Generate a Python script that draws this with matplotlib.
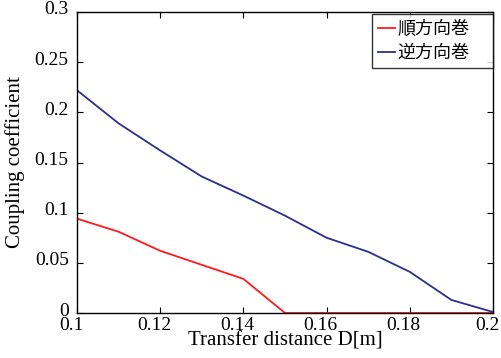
import matplotlib
matplotlib.use("Agg")
import matplotlib.pyplot as plt
import matplotlib.transforms as mtransforms

distance = [0.10, 0.11, 0.12, 0.13, 0.14, 0.15, 0.16, 0.17, 0.18, 0.19, 0.20]
forward = [0.094, 0.081, 0.062, 0.048, 0.034, 0.0, 0.0, 0.0, 0.0, 0.0, 0.0]
reverse = [0.222, 0.189, 0.162, 0.136, 0.117, 0.097, 0.075, 0.061, 0.041, 0.013, 0.001]
labels = ["順方向巻", "逆方向巻"]
xticks = [0.1, 0.12, 0.14, 0.16, 0.18, 0.2]
xticklabels = ["0.1", "0.12", "0.14", "0.16", "0.18", "0.2"]
yticks = [0, 0.05, 0.1, 0.15, 0.2, 0.25, 0.3]
yticklabels = ["0", "0.05", "0.1", "0.15", "0.2", "0.25", "0.3"]

plt.rcParams['font.family'] = ['Liberation Serif', 'Noto Sans CJK JP']

fig = plt.figure(figsize=(5.02, 3.58), dpi=100)
ax = fig.add_axes([77/502, 1 - 313/358, (493-77)/502, (313-12)/358])
ax.plot(distance, forward, color='#ff1a1a', lw=1.3, label=labels[0])
ax.plot(distance, reverse, color='#2b2f8e', lw=1.3, label=labels[1])
ax.set_xlim(0.1, 0.2)
ax.set_ylim(0, 0.3)
ax.set_xticks(xticks)
ax.set_xticklabels(xticklabels)
ax.set_yticks(yticks)
ax.set_yticklabels(yticklabels)
ax.tick_params(direction='in', top=True, right=True, labelsize=14, length=4)
ax.tick_params(axis='x', pad=3)
ax.tick_params(axis='y', pad=6)
dx = mtransforms.ScaledTranslation(-6/100, 0, fig.dpi_scale_trans)
dy = mtransforms.ScaledTranslation(0, 4/100, fig.dpi_scale_trans)
for lab in ax.get_xticklabels():
    lab.set_transform(lab.get_transform() + dx)
for lab in ax.get_yticklabels():
    lab.set_transform(lab.get_transform() + dy)
ax.set_xlabel("Transfer distance D[m]", fontsize=15, labelpad=-2)
ax.set_ylabel("Coupling coefficient", fontsize=15)
ax.yaxis.set_label_coords(-0.125, 0.5)
for s in ax.spines.values():
    s.set_linewidth(1.0)
leg = ax.legend(loc='upper left', bbox_to_anchor=(0.709, 0.75, 0.291, 0.243),
                mode='expand', frameon=True, fancybox=False,
                edgecolor='black', borderaxespad=0.0, handlelength=0.9,
                handletextpad=0.15, borderpad=0.35, labelspacing=0.3,
                prop={'family': ['Noto Sans CJK JP'], 'size': 13})
leg.get_frame().set_linewidth(1.0)
fig.savefig("out.png", dpi=100)
